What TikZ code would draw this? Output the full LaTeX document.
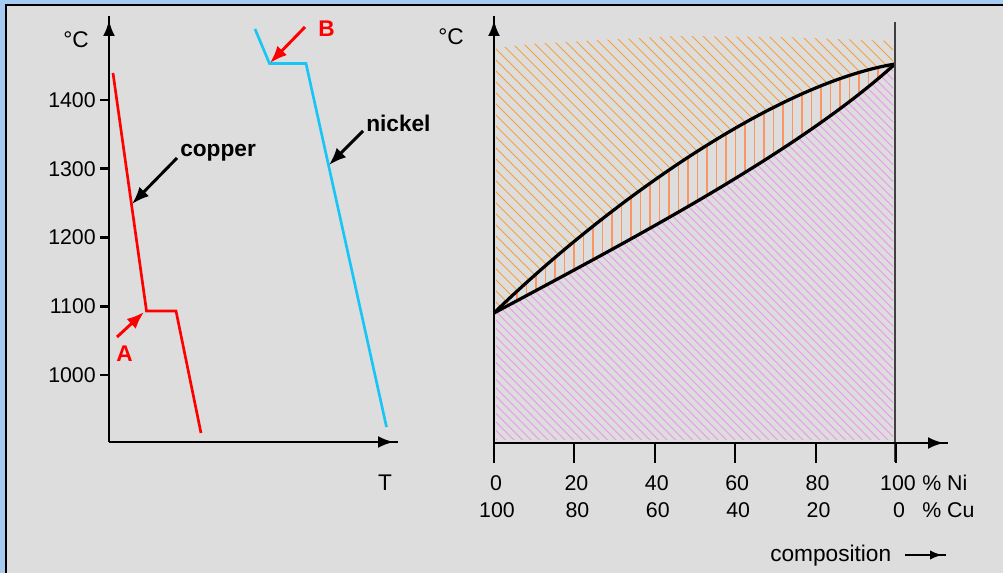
\documentclass[tikz,border=0pt]{standalone}
\usepackage{fontspec}
\setmainfont{Liberation Sans}
\usetikzlibrary{arrows.meta, decorations.markings}

\definecolor{frameblue}{RGB}{166,202,240}
\definecolor{panel}{RGB}{221,221,221}
\definecolor{nickelblue}{RGB}{24,198,245}
\definecolor{liqorange}{RGB}{245,160,60}
\definecolor{twophase}{RGB}{250,150,100}
\definecolor{solpink}{RGB}{236,150,236}
\definecolor{darkline}{RGB}{64,64,64}

\begin{document}
\begin{tikzpicture}[x=0.75pt, y=-0.75pt,
    lbl/.style={inner sep=0pt, font=\fontsize{16}{19}\selectfont},
    word/.style={inner sep=0pt, font=\fontsize{17}{20}\selectfont},
    bold/.style={inner sep=0pt, font=\fontsize{17}{20}\selectfont\bfseries},
    axis/.style={line width=2.2pt, postaction={decorate, decoration={markings,
        mark=at position -3pt with {\arrow{Latex[length=12pt,width=9pt]}}}}},
    pointer/.style={line width=2.2pt, -{Latex[length=13pt,width=10pt]}},
    cooling/.style={line width=2pt, line join=miter},
    curve/.style={line width=2.4pt}]

    % Frame
    \fill[frameblue] (0,0) rectangle (1003,573);
    \fill[black] (5,4) rectangle (1003,573);
    \fill[panel] (7,6) rectangle (1003,573);
    \useasboundingbox (0,0) rectangle (1003,573);

    % Cooling curves
    \coordinate (o1) at (109,442);
    \coordinate (ytop1) at (109,16);
    \coordinate (xend1) at (398,442);
    \draw[axis] (o1) -- (ytop1);
    \draw[axis] (o1) -- (xend1);
    \foreach \v in {1000,1100,...,1400} {
        \draw[line width=2pt] (100,{100+(1400-\v)*0.6875}) -- (109,{100+(1400-\v)*0.6875});
        \node[lbl, anchor=east] (y\v) at (96,{100+(1400-\v)*0.6875}) {\v};
    }
    \node[word] (degL) at (76,40) {°C};
    \node[word] (tlab) at (385,483) {T};

    \draw[cooling, red] (113,73) -- (146.5,311) -- (176,311) -- (201,433);
    \draw[cooling, nickelblue] (255,29) -- (269.5,63.5) -- (306,63.5) -- (386.5,427);

    \node[bold, red, anchor=base] (lblA) at (124.5,362) {A};
    \node[bold, red, anchor=base] (lblB) at (326.5,37) {B};
    \coordinate (aTail) at (117,337);
    \coordinate (aTip) at (144,312);
    \coordinate (bTail) at (305,27);
    \coordinate (bTip) at (270,63);
    \draw[pointer, red] (aTail) -- (aTip);
    \draw[pointer, red] (bTail) -- (bTip);

    \node[bold, anchor=base west] (copper) at (180,157) {copper};
    \node[bold, anchor=base west] (nickel) at (366,132) {nickel};
    \coordinate (cuTail) at (177,158);
    \coordinate (cuTip) at (132,204);
    \coordinate (niTail) at (363,131);
    \coordinate (niTip) at (329,165);
    \draw[pointer] (cuTail) -- (cuTip);
    \draw[pointer] (niTail) -- (niTip);

    % Phase diagram
    \coordinate (o2) at (494,443);
    \coordinate (ytop2) at (494,16);
    \coordinate (xend2) at (948,443);
    \coordinate (cuMp) at (494,313);
    \coordinate (niMp) at (895,64);

    % liquid
    \begin{scope}
        \clip (496,48) -- (530,44) -- (600,40) -- (680,36) -- (780,37) -- (893,41) -- (893,64)
            .. controls (770,85) and (600,210) .. (496,312) -- cycle;
        \foreach \a in {40,51,...,880}
            \draw[liqorange, line width=0.65pt] (\a,0) -- ++(600,600);
    \end{scope}
    % liquid + solid
    \begin{scope}
        \clip (cuMp) .. controls (600,210) and (770,85) .. (niMp)
            .. controls (800,150) and (640,235) .. (cuMp) -- cycle;
        \foreach \a in {498,507.5,...,895}
            \draw[twophase, line width=1.4pt] (\a,0) -- (\a,450);
    \end{scope}
    % solid
    \begin{scope}
        \clip (cuMp) .. controls (640,235) and (800,150) .. (niMp) -- (893,64)
            -- (893,440) -- (496,440) -- (496,313) -- cycle;
        \foreach \a in {40,48.5,...,840}
            \draw[solpink, line width=0.65pt] (\a,0) -- ++(600,600);
    \end{scope}

    \draw[curve] (cuMp) .. controls (600,210) and (770,85) .. (niMp);
    \draw[curve] (cuMp) .. controls (640,235) and (800,150) .. (niMp);

    \draw[darkline, line width=1.2pt] (895,22) -- (895,462);
    \draw[axis] (o2) -- (ytop2);
    \draw[axis] (o2) -- (xend2);
    \node[word] (degR) at (451,37) {°C};

    \foreach \i/\ni/\cu in {0/0/100,1/20/80,2/40/60,3/60/40,4/80/20,5/100/0} {
        \draw[line width=1.5pt] ({494+\i*80.4},443) -- ({494+\i*80.4},463);
        \node[lbl] (ni\i) at ({496+\i*80.4},483) {\ni};
        \node[lbl] (cu\i) at ({497+\i*80.4},510) {\cu};
    }
    \node[lbl, anchor=west] (niLab) at (922,483) {\% Ni};
    \node[lbl, anchor=west] (cuLab) at (922,510) {\% Cu};

    \node[word, anchor=base west] (comp) at (770,561) {composition};
    \coordinate (cmpTail) at (905,555);
    \coordinate (cmpEnd) at (946,555);
    \draw[line width=1.2pt, postaction={decorate, decoration={markings,
        mark=at position -3pt with {\arrow{Latex[length=9pt,width=7pt]}}}}] (cmpTail) -- (cmpEnd);
\end{tikzpicture}
\end{document}
